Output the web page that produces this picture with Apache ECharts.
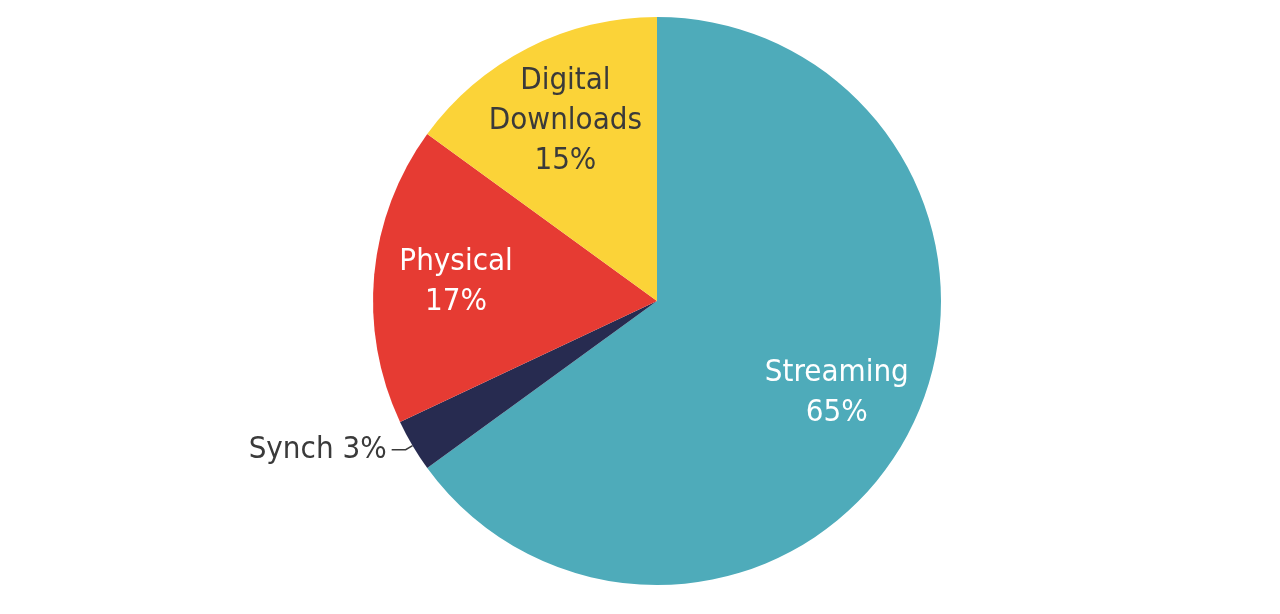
<!DOCTYPE html>
<html>
<head>
<meta charset="utf-8">
<script src="https://cdn.jsdelivr.net/npm/echarts@6/dist/echarts.min.js"></script>
<style>html,body{margin:0;background:#fff}#main{width:1280px;height:614px}</style>
</head>
<body>
<div id="main"></div>
<script>
const categories = ['Streaming', 'Synch', 'Physical', 'Digital\nDownloads'];
const values = [65, 3, 17, 15];
const colors = ['#4eabba', '#272b50', '#e63b33', '#fbd338'];
const textColors = ['#ffffff', '#3a3a3a', '#ffffff', '#3a3a3a'];

const font = '"Liberation Sans Narrow", "DejaVu Sans Condensed", sans-serif';
const center = [657, 301];
const radius = 284;

const chart = echarts.init(document.getElementById('main'));
chart.setOption({
  animation: false,
  series: [
    {
      type: 'pie',
      center: center,
      radius: [0, radius],
      startAngle: 90,
      clockwise: true,
      silent: true,
      data: categories.map((name, i) => ({
        name: name,
        value: values[i],
        itemStyle: { color: colors[i] },
        label: i === 1 ? {
          show: true, position: 'outside', formatter: 'Synch {c}%',
          color: '#3a3a3a', fontSize: 31, fontFamily: font
        } : { show: false },
        labelLine: i === 1 ? { show: true, length: 8, length2: 14, lineStyle: { color: '#3a3a3a', width: 1.5 } } : { show: false }
      }))
    },
    {
      // transparent copy, only used to place inside labels further out
      type: 'pie',
      center: center,
      radius: [0, radius * 1.4],
      startAngle: 90,
      clockwise: true,
      silent: true,
      data: categories.map((name, i) => ({
        name: name,
        value: values[i],
        itemStyle: { color: 'rgba(0,0,0,0)' },
        label: {
          show: i !== 1, position: 'inside', formatter: '{b}\n{c}%',
          color: textColors[i], fontSize: 31, lineHeight: 40, fontFamily: font
        }
      }))
    }
  ]
});
</script>
</body>
</html>
